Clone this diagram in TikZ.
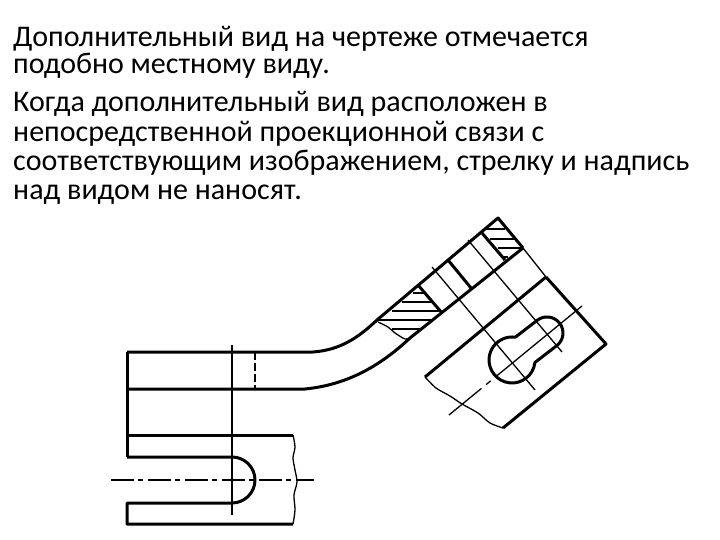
\documentclass[tikz,border=0pt]{standalone}
\usepackage{fontspec}
\setmainfont{Carlito}
\tikzset{
  contour/.style={line width=3pt, line join=round},
  axisline/.style={line width=1.3pt},
  hatchline/.style={line width=1.4pt},
  dashdot/.style={line width=1.3pt, dash pattern=on 23pt off 4pt on 5pt off 5pt},
  txt/.style={anchor=base west, inner sep=0pt, font=\fontsize{30}{30}\selectfont}
}
\begin{document}
\begin{tikzpicture}[x=1pt, y=-1pt]
\useasboundingbox (0,0) rectangle (720,540);
\node[txt] (line1) at (13,47) {Дополнительный вид на чертеже отмечается};
\node[txt] (line2) at (13,74) {подобно местному виду.};
\node[txt] (line3) at (13,112) {Когда дополнительный вид расположен в};
\node[txt] (line4) at (13,142) {непосредственной проекционной связи с};
\node[txt] (line5) at (13,171) {соответствующим изображением, стрелку и надпись};
\node[txt] (line6) at (13,200) {над видом не наносят.};

% bar, top view
\draw[contour](127,352)--(313,352) .. controls (340,350) and (358,338) .. (377,320)--(498,218)--(523,248);
\draw[axisline](523,248)--(546,277);
\draw[contour](546,277)--(606,344)--(503,428);
\draw[contour](127,389)--(305,389) .. controls (345,385) and (378,368) .. (410,338)--(523,248);
\draw[contour](127,352)--(127,457);
\draw[contour](127,435)--(293,435);
\draw[contour](127,457)--(232,457) arc[start angle=-90, end angle=90, radius=23]--(127,503)--(127,524)--(293,524);
\draw[axisline](232,345)--(232,515);
\draw[axisline, dash pattern=on 8pt off 3pt](255,352)--(255,389);
\draw[dashdot](111,480)--(314,480);
\draw[axisline] plot[smooth] coordinates {(293,435) (295,447) (293,458) (295,470) (297,482) (294,495) (295,510) (293,524)};

% additional view
\draw[contour](425,377)--(546,277);
\draw[contour](418,285)--(442,313);
\draw[contour](448,260)--(471,288);
\draw[contour](482,233)--(505,260);
\draw[axisline] plot[smooth] coordinates {(425,377) (436,388) (450,396) (462,404) (478,413) (490,423) (503,428)};
\draw[axisline] plot[smooth] coordinates {(378,322) (388,327) (395,333) (405,339) (410,338)};
\draw[axisline](432,267)--(535,390);
\draw[axisline](468,240)--(562,352);
\draw[axisline, dash pattern=on 112pt off 6pt on 6pt off 6pt](582,306)--(449,415);
\draw[contour](515.3,337.2)--(537.2,320.3) arc[start angle=-127.7, end angle=52.3, radius=16]--(534.9,362.5) arc[start angle=6.3, end angle=278.3, radius=23]--cycle;

% section hatching
\foreach \yy/\xa/\xb in {293/413/424, 302/402/432, 311/392/439, 320/378/434, 329/392/422}
  \draw[hatchline](\xa,\yy)--(\xb,\yy);
\foreach \yy/\xa/\xb in {229/485/505, 239/490/514, 248/498/522, 257/503/508}
  \draw[hatchline](\xa,\yy)--(\xb,\yy);
\end{tikzpicture}
\end{document}
